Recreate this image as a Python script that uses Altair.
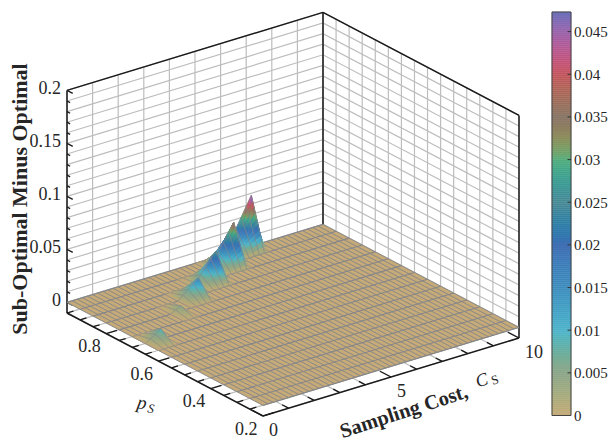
import altair as alt

# ---- data ----
C_GRID = [round(i * 0.2, 1) for i in range(51)]
P_GRID = [round(0.2 + i * 0.05, 2) for i in range(16)]
Z_TICKS = [0, 0.05, 0.1, 0.15, 0.2]
Z_LABELS = ["0", "0.05", "0.1", "0.15", "0.2"]
C_TICKS = [0, 5, 10]
P_TICKS = [0.2, 0.4, 0.6, 0.8]
CBAR_TICKS = [0, 0.005, 0.01, 0.015, 0.02, 0.025, 0.03, 0.035, 0.04, 0.045]
CBAR_LABELS = ["0", "0.005", "0.01", "0.015", "0.02", "0.025", "0.03", "0.035", "0.04", "0.045"]

FIN_P = [0.95, 0.9, 0.85, 0.8, 0.75, 0.65]
FIN_C = [
    [6.2, 6.4, 6.6, 6.8, 7.0, 7.2],
    [5.2, 5.4, 5.6, 5.8, 6.0],
    [4.0, 4.2, 4.4, 4.6, 4.8],
    [3.0, 3.2, 3.4, 3.6],
    [2.2, 2.4],
    [0.2, 0.4, 0.6],
]
FIN_Z = [
    [0.003, 0.012, 0.021, 0.030, 0.039, 0.048],
    [0.006, 0.014, 0.022, 0.030, 0.038],
    [0.002, 0.008, 0.014, 0.020, 0.026],
    [0.004, 0.008, 0.012, 0.016],
    [0.0025, 0.005],
    [0.003, 0.006, 0.0093],
]

CMAP_VALUES = [0, 0.005, 0.01, 0.015, 0.02, 0.025, 0.03, 0.035, 0.04, 0.0473]
CMAP_COLORS = ["#c6aa78", "#8ea68a", "#4fb4cb", "#3f8dbd", "#416fb4", "#4a8a96",
               "#52ad7c", "#8a7668", "#c5565f", "#6b71b9"]

FONT = "Liberation Serif"
TXT = "#262626"
ZMIN = -0.01
SUB = 10
W, H = 600, 435


def project(c, p, z):
    """Orthographic view of (Cs, ps, z) to plot pixels."""
    x = 263 + 25.6 * c - 261.33 * (p - 0.2)
    y = 416 - 7.8 * c - 137.33 * (p - 0.2) - (z - ZMIN) * 1060
    return [round(x - 8, 2), round(y - 8, 2)]


def line(pts, kind="line"):
    return {"type": "Feature", "geometry": {"type": "LineString", "coordinates": pts},
            "properties": {"kind": kind, "z": 0}}


def poly(pts, z):
    return {"type": "Feature", "geometry": {"type": "Polygon", "coordinates": [pts + [pts[0]]]},
            "properties": {"kind": "poly", "z": z}}


PROJ = dict(type="identity", scale=1, translate=[0, 0])


def lines_layer(features, color, w):
    return alt.Chart(alt.Data(values=features)).mark_geoshape(
        filled=False, stroke=color, strokeWidth=w
    ).project(**PROJ)


# Z matrix
Z = [[0.0 for _ in C_GRID] for _ in P_GRID]
for p, cs, zs in zip(FIN_P, FIN_C, FIN_Z):
    for c, z in zip(cs, zs):
        Z[P_GRID.index(p)][C_GRID.index(c)] = z

Cmax, Pmin, Pmax = C_GRID[-1], P_GRID[0], P_GRID[-1]
ZTOP = 0.2
z_lines = [round(ZMIN + i * 0.01, 2) for i in range(22)]
c_unit = list(range(0, 11))

# ---- background: walls, floor, ticks ----
grid = []
for z in z_lines:
    grid.append(line([project(0, Pmax, z), project(Cmax, Pmax, z), project(Cmax, Pmin, z)]))
for c in c_unit:
    grid.append(line([project(c, Pmax, ZMIN), project(c, Pmax, ZTOP)]))
    grid.append(line([project(c, Pmin, ZMIN), project(c, Pmax, ZMIN)]))
for p in P_GRID:
    grid.append(line([project(Cmax, p, ZMIN), project(Cmax, p, ZTOP)]))
    grid.append(line([project(0, p, ZMIN), project(Cmax, p, ZMIN)]))

ticks = []
for c in c_unit:
    dp = 0.042 if c % 5 == 0 else 0.025
    ticks.append(line([project(c, Pmin, ZMIN), project(c, Pmin + dp, ZMIN)]))
for i, p in enumerate(P_GRID):
    dc = 0.42 if i % 4 == 0 else 0.25
    ticks.append(line([project(0, p, ZMIN), project(dc, p, ZMIN)]))
for z in z_lines:
    dp = 0.022 if round(z * 100) % 5 == 0 else 0.012
    ticks.append(line([project(0, Pmax, z), project(0, Pmax - dp, z)]))

box = []
for a, b in [((0, Pmax, ZMIN), (0, Pmax, ZTOP)),
             ((0, Pmax, ZTOP), (Cmax, Pmax, ZTOP)),
             ((Cmax, Pmax, ZTOP), (Cmax, Pmin, ZTOP)),
             ((Cmax, Pmax, ZMIN), (Cmax, Pmax, ZTOP)),
             ((Cmax, Pmin, ZMIN), (Cmax, Pmin, ZTOP)),
             ((0, Pmax, ZMIN), (0, Pmin, ZMIN)),
             ((0, Pmin, ZMIN), (Cmax, Pmin, ZMIN))]:
    box.append(line([project(*a), project(*b)]))

# ---- colour bar ----
CB_L, CB_R = 552 - 8, 571 - 8
CB_TOP, CB_BOT = 12 - 8, 415.5 - 8
CB_MAX = CMAP_VALUES[-1]


def cb_y(v):
    return round(CB_BOT - v / CB_MAX * (CB_BOT - CB_TOP), 2)


cb_cells = []
N_CB = 200
for k in range(N_CB):
    v0, v1 = CB_MAX * k / N_CB, CB_MAX * (k + 1) / N_CB
    cb_cells.append(poly([[CB_L, cb_y(v0)], [CB_R, cb_y(v0)], [CB_R, cb_y(v1)], [CB_L, cb_y(v1)]],
                         round((v0 + v1) / 2, 5)))
cb_frame = [line([[CB_L, CB_BOT], [CB_R, CB_BOT], [CB_R, CB_TOP], [CB_L, CB_TOP], [CB_L, CB_BOT]])]
cb_ticks = [line([[CB_R - 3.5, cb_y(v)], [CB_R, cb_y(v)]]) for v in CBAR_TICKS[1:]]

# ---- surface: flat base, then raised quads far to near ----
base = [poly([project(0, Pmin, 0), project(Cmax, Pmin, 0), project(Cmax, Pmax, 0), project(0, Pmax, 0)], 0)]
MESH = "#85868a"
mesh_c = [line([project(c, Pmin, 0), project(c, Pmax, 0)]) for c in C_GRID]
mesh_p = [line([project(0, p, 0), project(Cmax, p, 0)]) for p in P_GRID]

quads = []
for j in range(len(P_GRID) - 1):
    for i in range(len(C_GRID) - 1):
        if Z[j][i] or Z[j + 1][i] or Z[j][i + 1] or Z[j + 1][i + 1]:
            quads.append((j, i))
quads.sort(key=lambda q: project(C_GRID[q[1]], P_GRID[q[0]], 0)[1])

surf = []
for j, i in quads:
    c0, c1 = C_GRID[i], C_GRID[i + 1]
    p0, p1 = P_GRID[j], P_GRID[j + 1]
    z00, z10, z01, z11 = Z[j][i], Z[j][i + 1], Z[j + 1][i], Z[j + 1][i + 1]

    def at(u, v):
        z = (z00 * (1 - u) + z10 * u) * (1 - v) + (z01 * (1 - u) + z11 * u) * v
        return c0 + (c1 - c0) * u, p0 + (p1 - p0) * v, z

    for a in range(SUB):
        for b in range(SUB):
            u0, u1, v0, v1 = a / SUB, (a + 1) / SUB, b / SUB, (b + 1) / SUB
            corners = [at(u0, v0), at(u1, v0), at(u1, v1), at(u0, v1)]
            zm = sum(k[2] for k in corners) / 4
            surf.append(poly([project(*k) for k in corners], round(zm, 5)))
    for (ua, va), (ub, vb) in [((0, 0), (1, 0)), ((1, 0), (1, 1)), ((1, 1), (0, 1)), ((0, 1), (0, 0))]:
        surf.append(line([project(*at(ua, va)), project(*at(ub, vb))]))

# ---- text ----
texts = []


def label(txt, x, y, align="center", size=18, angle=0, weight="normal", style="normal"):
    texts.append({"t": txt, "px": x - 8, "py": y - 8, "align": align, "size": size,
                  "angle": angle, "weight": weight, "style": style})


for v, s in zip(Z_TICKS, Z_LABELS):
    x, y = project(0, Pmax, v)
    label(s, 61, y + 8 - 1, "right")
for c in C_TICKS:
    x, y = project(c, Pmin, ZMIN)
    label(str(c), x + 8 + 6, y + 8 + 14.5, "left")
for p in P_TICKS:
    x, y = project(0, p, ZMIN)
    label(f"{p:.1f}", x + 8 - 5.5, y + 8 + 13.5, "right")
for v, s in zip(CBAR_TICKS, CBAR_LABELS):
    label(s, 574, cb_y(v) + 8 + 0.5, "left", size=15)
label("Sub-Optimal Minus Optimal", 19.5, 199, size=22, angle=270, weight="bold")
label("Sampling Cost,", 404, 412, size=20.5, angle=342, weight="bold")
label("C", 482, 381, size=18, angle=342, style="italic")
label("S", 495, 380, size=13, angle=342)
label("p", 142, 403, size=19, angle=10, style="italic")
label("S", 151, 409, size=13, angle=10, style="italic")

scale = alt.Scale(domain=CMAP_VALUES, range=CMAP_COLORS, clamp=True)
is_line = "datum.properties.kind == 'line'"
surf_layer = alt.Chart(alt.Data(values=surf)).mark_geoshape(strokeWidth=0.6).encode(
    fill=alt.condition(is_line, alt.value("transparent"),
                       alt.Fill("properties.z:Q", scale=scale, legend=None)),
    stroke=alt.condition(is_line, alt.value(MESH),
                         alt.Stroke("properties.z:Q", scale=scale, legend=None)),
).project(**PROJ)

cb_layer = alt.Chart(alt.Data(values=cb_cells)).mark_geoshape(strokeWidth=0.5).encode(
    fill=alt.Fill("properties.z:Q", scale=scale, legend=None),
    stroke=alt.Stroke("properties.z:Q", scale=scale, legend=None),
).project(**PROJ)

base_layer = alt.Chart(alt.Data(values=base)).mark_geoshape(
    fill=CMAP_COLORS[0], stroke=CMAP_COLORS[0], strokeWidth=0.5
).project(**PROJ)

# text groups, one mark per style
groups = {}
for t in texts:
    groups.setdefault((t["align"], t["size"], t["angle"], t["weight"], t["style"]), []).append(t)

x_enc = alt.X("px:Q", scale=alt.Scale(domain=[0, W], range=[0, W], nice=False, zero=False), axis=None)
y_enc = alt.Y("py:Q", scale=alt.Scale(domain=[0, H], range=[0, H], nice=False, zero=False), axis=None)
text_layers = []
for (al, sz, an, wt, st), rows in groups.items():
    text_layers.append(
        alt.Chart(alt.Data(values=rows)).mark_text(
            font=FONT, baseline="middle", color=TXT, align=al, fontSize=sz,
            angle=an, fontWeight=wt, fontStyle=st,
        ).encode(x=x_enc, y=y_enc, text="t:N")
    )

chart = alt.layer(
    lines_layer(grid, "#bdbdbd", 1.2),
    lines_layer(ticks, "#1a1a1a", 1.3),
    lines_layer(box, "#1a1a1a", 1.5),
    cb_layer,
    lines_layer(cb_frame, "#444444", 1.0),
    lines_layer(cb_ticks, "#333333", 1.0),
    base_layer,
    lines_layer(mesh_c, MESH, 0.9),
    lines_layer(mesh_p, MESH, 1.1),
    surf_layer,
    *text_layers,
).properties(width=W, height=H, padding=0, autosize="none").configure_view(stroke=None)

chart.save("out.html", embed_options={"renderer": "svg", "actions": False})
